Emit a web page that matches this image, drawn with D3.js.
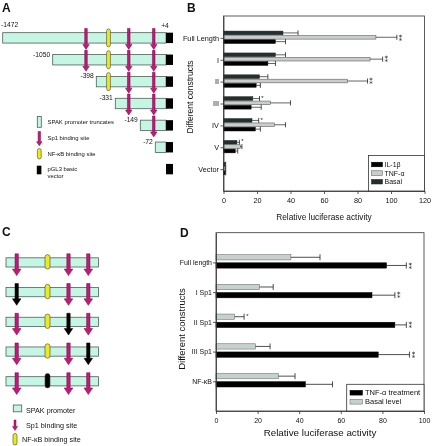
<!DOCTYPE html>
<html><head><meta charset="utf-8">
<script src="https://cdn.jsdelivr.net/npm/d3@7"></script>
<style>
body{margin:0;background:#fff}
svg{display:block;will-change:transform}
text{font-family:"Liberation Sans",Arial,Helvetica,sans-serif;fill:#111}
</style>
</head><body>
<svg id="c" width="433" height="446"></svg>
<script>
// ---------- Panel B data ----------
const bCats = ["Full Length","I","II","III","IV","V","Vector"];
const bSeries = ["Basal","TNF-α","IL-1β"];
const bBasal    = [35.5, 31, 21.5, 17.5, 17, 8, 1];
const bBasalErr = [9, 6, 5, 4, 4, 1.5, 0.3];
const bTNF      = [91, 87.5, 74, 28, 30.5, 10, 1];
const bTNFErr   = [12.5, 7.5, 12, 12, 6.5, 1, 0.3];
const bIL       = [31, 26.5, 19.5, 16.5, 19, 7, 1];
const bILErr    = [6, 4.5, 2.5, 6, 3, 1.5, 0.3];
const bSigTNF   = ["⁑", "⁑", "⁑", "", "", "", ""];
const bSigBasal = ["", "", "", "*", "*", "*", ""];
const bTicks = [0, 20, 40, 60, 80, 100, 120];
const bLegend = ["IL-1β", "TNF-α", "Basal"];

// ---------- Panel D data ----------
const dCats = ["Full length","I Sp1","II Sp1","III Sp1","NF-κB"];
const dSeries = ["Basal level","TNF-α treatment"];
const dBasal    = [36, 21, 9, 19, 30];
const dBasalErr = [14, 6.5, 4.5, 7, 8];
const dTNF      = [82, 75, 86, 78, 43];
const dTNFErr   = [9.5, 11, 5.5, 15, 13];
const dSigTNF   = ["⁑", "⁑", "⁑", "⁑", ""];
const dSigBasal = ["", "", "*", "", ""];
const dTicks = [0, 20, 40, 60, 80, 100];
const dLegend = ["TNF-α treatment", "Basal level"];

// ---------- Panel A data (promoter truncates) ----------
const aStarts = [-1472, -1050, -398, -331, -149, -72, null];
const aEnd = 4;
const aSp1 = [-552, -233, -80];
const aNFkB = [-355];

// ---------- Panel C data (site mutants) ----------
const cSites = ["Sp1", "NF-κB", "Sp1", "Sp1"];
const cMutated = [-1, 0, 2, 3, 1];

const svg = d3.select("#c");
const MAG = "#c4177a", MAGS = "#6e0c44", YEL = "#eeea1a", TEAL = "#c5f5e3", TEALS = "#4f6059";

// panel letters
[["A",2,12],["B",187,12],["C",2,236],["D",180,237]].forEach(([t,x,y]) =>
  svg.append("text").attr("x",x).attr("y",y).attr("font-size",12).attr("font-weight","bold").text(t));

function arrow(g, cx, y0, y1, shaftW, headW, headH, fill) {
  const p = d3.path();
  p.moveTo(cx - shaftW/2, y0);
  p.lineTo(cx + shaftW/2, y0);
  p.lineTo(cx + shaftW/2, y1 - headH);
  p.lineTo(cx + headW/2, y1 - headH);
  p.lineTo(cx, y1);
  p.lineTo(cx - headW/2, y1 - headH);
  p.lineTo(cx - shaftW/2, y1 - headH);
  p.closePath();
  g.append("path").attr("d", p.toString()).attr("fill", fill)
    .attr("stroke", fill === "#000" ? "#000" : MAGS).attr("stroke-width", 0.5);
}
function oval(g, cx, y0, y1, w, fill) {
  g.append("rect").attr("x", cx - w/2).attr("y", y0).attr("width", w).attr("height", y1 - y0)
    .attr("rx", w/2).attr("ry", w/2).attr("fill", fill).attr("stroke", "#444").attr("stroke-width", 0.6);
}
function sig(g, x, cy, s) {
  if (!s) return;
  if (s === "⁑")
    g.append("text").attr("x", x).attr("y", cy + 3.3).attr("font-size", 7)
      .style("font-family", '"DejaVu Sans", sans-serif').text(s);
  else
    g.append("text").attr("x", x).attr("y", cy + 2.6).attr("font-size", 6).text(s);
}

// =============== PANEL B ===============
const xB = d3.scaleLinear().domain([0,120]).range([223.5,424.5]);
const yB = d3.scalePoint().domain(bCats).range([16,191]).padding(1);
const subB = d3.scaleBand().domain(bSeries).range([-6.8,5.6]).paddingInner(0.15);
const gB = svg.append("g");
const bSets = [
  {key:"Basal", v:bBasal, e:bBasalErr, fill:"#243030", stroke:"#1a2222", sig:bSigBasal},
  {key:"TNF-α", v:bTNF, e:bTNFErr, fill:"#c9cdcc", stroke:"#4a4a4a", sig:bSigTNF},
  {key:"IL-1β", v:bIL, e:bILErr, fill:"#000", stroke:"#000", sig:null}
];
bSets.forEach(s => {
  bCats.forEach((c,i) => {
    const y = yB(c) + subB(s.key), h = subB.bandwidth(), cy = y + h/2;
    gB.append("rect").attr("x", xB(0)).attr("y", y).attr("width", xB(s.v[i]) - xB(0)).attr("height", h)
      .attr("fill", s.fill).attr("stroke", s.stroke).attr("stroke-width", 0.5);
    const xe = xB(s.v[i] + s.e[i]);
    gB.append("line").attr("x1", xB(s.v[i])).attr("x2", xe).attr("y1", cy).attr("y2", cy).attr("stroke","#222").attr("stroke-width",0.7);
    gB.append("line").attr("x1", xe).attr("x2", xe).attr("y1", cy - h/2 - 0.7).attr("y2", cy + h/2 + 0.7).attr("stroke","#222").attr("stroke-width",0.8);
    if (s.sig) sig(gB, xe + 1.8, cy - (s.sig[i] === "*" ? 1.5 : 0), s.sig[i]);
  });
});
gB.append("rect").attr("x", xB(0)).attr("y", 16).attr("width", xB(120) - xB(0)).attr("height", 175)
  .attr("fill","none").attr("stroke","#333").attr("stroke-width",0.8);
const axLB = gB.append("g").attr("transform",`translate(${xB(0)},0)`)
  .call(d3.axisLeft(yB).tickSize(3).tickSizeOuter(0).tickPadding(1.5));
const axBB = gB.append("g").attr("transform","translate(0,191)")
  .call(d3.axisBottom(xB).tickValues(bTicks).tickSize(3).tickSizeOuter(0).tickPadding(4));
[axLB, axBB].forEach(a => {
  a.attr("font-family", null).attr("font-size", null);
  a.selectAll("text").attr("font-size", 7.3).attr("fill","#111");
  a.selectAll("line,path").attr("stroke","#333").attr("stroke-width",0.8);
});
gB.append("text").attr("x", (xB(0)+xB(120))/2).attr("y", 220).attr("text-anchor","middle")
  .attr("font-size", 8.3).text("Relative luciferase activity");
gB.append("text").attr("transform","translate(192.5,97) rotate(-90)").attr("text-anchor","middle")
  .attr("font-size", 8.5).text("Different constructs");
// legend B
const lgB = gB.append("g");
lgB.append("rect").attr("x", 368.5).attr("y", 155.5).attr("width", xB(120) - 368.5).attr("height", 191 - 155.5)
  .attr("fill","#fff").attr("stroke","#333").attr("stroke-width",0.8);
bLegend.forEach((k,i) => {
  const s = bSets.find(d => d.key === k);
  const cy = 164.5 + i * 8.6;
  lgB.append("rect").attr("x", 371.5).attr("y", cy - 2.3).attr("width", 11).attr("height", 4.6)
    .attr("fill", s.fill).attr("stroke", s.stroke).attr("stroke-width", 0.5);
  lgB.append("text").attr("x", 384.5).attr("y", cy + 2.5).attr("font-size", 7).text(k);
});

// =============== PANEL D ===============
const xD = d3.scaleLinear().domain([0,100]).range([216,424]);
const yD = d3.scalePoint().domain(dCats).range([232.7,411]).padding(1);
const subD = d3.scaleBand().domain(dSeries).range([-7.8,5.7]).paddingInner(0.35);
const gD = svg.append("g");
const dSets = [
  {key:"Basal level", v:dBasal, e:dBasalErr, fill:"#c6d0cd", stroke:"#5a6361", sig:dSigBasal},
  {key:"TNF-α treatment", v:dTNF, e:dTNFErr, fill:"#000", stroke:"#000", sig:dSigTNF}
];
dSets.forEach(s => {
  dCats.forEach((c,i) => {
    const y = yD(c) + subD(s.key), h = subD.bandwidth(), cy = y + h/2;
    gD.append("rect").attr("x", xD(0)).attr("y", y).attr("width", xD(s.v[i]) - xD(0)).attr("height", h)
      .attr("fill", s.fill).attr("stroke", s.stroke).attr("stroke-width", 0.5);
    const xe = xD(s.v[i] + s.e[i]);
    gD.append("line").attr("x1", xD(s.v[i])).attr("x2", xe).attr("y1", cy).attr("y2", cy).attr("stroke","#222").attr("stroke-width",0.8);
    gD.append("line").attr("x1", xe).attr("x2", xe).attr("y1", cy - 3).attr("y2", cy + 3).attr("stroke","#222").attr("stroke-width",0.8);
    sig(gD, xe + 2.2, cy - (s.sig[i] === "*" ? 1 : 0), s.sig[i]);
  });
});
gD.append("rect").attr("x", xD(0)).attr("y", 232.7).attr("width", xD(100) - xD(0)).attr("height", 411 - 232.7)
  .attr("fill","none").attr("stroke","#333").attr("stroke-width",0.8);
const axLD = gD.append("g").attr("transform",`translate(${xD(0)},0)`)
  .call(d3.axisLeft(yD).tickSize(3).tickSizeOuter(0).tickPadding(1));
const axBD = gD.append("g").attr("transform","translate(0,411)")
  .call(d3.axisBottom(xD).tickValues(dTicks).tickSize(3).tickSizeOuter(0).tickPadding(4));
[axLD, axBD].forEach(a => {
  a.attr("font-family", null).attr("font-size", null);
  a.selectAll("text").attr("font-size", 7).attr("fill","#111");
  a.selectAll("line,path").attr("stroke","#333").attr("stroke-width",0.8);
});
gD.append("text").attr("x", (xD(0)+xD(100))/2).attr("y", 436).attr("text-anchor","middle")
  .attr("font-size", 9.8).text("Relative luciferase activity");
gD.append("text").attr("transform","translate(185,329) rotate(-90)").attr("text-anchor","middle")
  .attr("font-size", 9.5).text("Different constructs");
const lgD = gD.append("g");
lgD.append("rect").attr("x", 346.7).attr("y", 384.3).attr("width", xD(100) - 346.7).attr("height", 411 - 384.3)
  .attr("fill","#fff").attr("stroke","#333").attr("stroke-width",0.8);
dLegend.forEach((k,i) => {
  const s = dSets.find(d => d.key === k);
  const cy = 392.7 + i * 9;
  lgD.append("rect").attr("x", 350).attr("y", cy - 2.4).attr("width", 12.5).attr("height", 4.8)
    .attr("fill", s.fill).attr("stroke", s.stroke).attr("stroke-width", 0.5);
  lgD.append("text").attr("x", 365).attr("y", cy + 2.6).attr("font-size", 7.5).text(k);
});

// =============== PANEL A ===============
const xA = d3.scaleLinear().domain([-1472,-1050,-398,-331,-149,-72,4])
  .range([2.7,52.7,96.3,115.3,140.3,155.3,166]);
const gA = svg.append("g");
aStarts.forEach((st,i) => {
  const cy = yB(bCats[i]);
  const top = cy - 5.2, h = 10.4;
  if (st !== null) {
    gA.append("rect").attr("x", xA(st)).attr("y", top).attr("width", xA(aEnd) - xA(st)).attr("height", h)
      .attr("fill", TEAL).attr("stroke", TEALS).attr("stroke-width", 0.8);
    aNFkB.forEach(p => { if (p > st) oval(gA, xA(p), cy - 9, cy + 9, 3.8, YEL); });
    aSp1.forEach(p => { if (p > st) arrow(gA, xA(p), cy - 9.5, cy + 11.5, 2.6, 6.5, 5, MAG); });
    if (i === 0) {
      gA.append("text").attr("x", 1).attr("y", top - 5.5).attr("font-size", 6.7).text(st);
      gA.append("text").attr("x", xA(aEnd) - 1).attr("y", top - 5).attr("text-anchor","middle").attr("font-size", 6.7).text("+" + aEnd);
    } else {
      gA.append("text").attr("x", xA(st) - 2.5).attr("y", top + 2).attr("text-anchor","end").attr("font-size", 6.7).text(st);
    }
  }
  gA.append("rect").attr("x", xA(aEnd)).attr("y", top).attr("width", 7).attr("height", h).attr("fill", "#000");
});
// legend A
const lgA = gA.append("g");
lgA.append("rect").attr("x", 37.3).attr("y", 116.5).attr("width", 4).attr("height", 10.8)
  .attr("fill", TEAL).attr("stroke", TEALS).attr("stroke-width", 0.8);
lgA.append("text").attr("x", 47.5).attr("y", 124.3).attr("font-size", 5.9).text("SPAK promoter truncates");
arrow(lgA, 39.3, 131.5, 145.7, 2.4, 5.5, 4, MAG);
lgA.append("text").attr("x", 47.5).attr("y", 140).attr("font-size", 5.9).text("Sp1 binding site");
oval(lgA, 39.3, 148.5, 159, 3.8, YEL);
lgA.append("text").attr("x", 47.5).attr("y", 156).attr("font-size", 5.9).text("NF-κB binding site");
lgA.append("rect").attr("x", 36.8).attr("y", 165.7).attr("width", 4.6).attr("height", 8.6).attr("fill", "#000");
lgA.append("text").attr("x", 47.5).attr("y", 170.5).attr("font-size", 5.9).text("pGL3 basic");
lgA.append("text").attr("x", 47.5).attr("y", 178).attr("font-size", 5.9).text("vector");

// =============== PANEL C ===============
const cPos = [16.7, 47.5, 68.5, 88.3];
const gC = svg.append("g");
cMutated.forEach((m,i) => {
  const cy = yD(dCats[i]);
  gC.append("rect").attr("x", 6).attr("y", cy - 4.6).attr("width", 92.5).attr("height", 9.2)
    .attr("fill", TEAL).attr("stroke", TEALS).attr("stroke-width", 0.8);
  cSites.forEach((s,j) => {
    const fill = j === m ? "#000" : null;
    if (s === "Sp1") arrow(gC, cPos[j], cy - 8.6, cy + 13.2, 3.4, 8.6, 6.5, fill || MAG);
    else oval(gC, cPos[j], cy - 7.8, cy + 6.6, 5, fill || YEL);
  });
});
const lgC = gC.append("g");
lgC.append("rect").attr("x", 13.3).attr("y", 405).attr("width", 8.4).attr("height", 6.8)
  .attr("fill", TEAL).attr("stroke", TEALS).attr("stroke-width", 0.8);
lgC.append("text").attr("x", 26).attr("y", 413).attr("font-size", 7.2).text("SPAK promoter");
arrow(lgC, 15, 420, 430.5, 2, 5, 4, MAG);
lgC.append("text").attr("x", 26).attr("y", 427.7).attr("font-size", 7.2).text("Sp1 binding site");
oval(lgC, 15, 433.5, 445, 4, YEL);
lgC.append("text").attr("x", 22).attr("y", 442.3).attr("font-size", 7.2).text("NF-κB binding site");
</script>
</body></html>
